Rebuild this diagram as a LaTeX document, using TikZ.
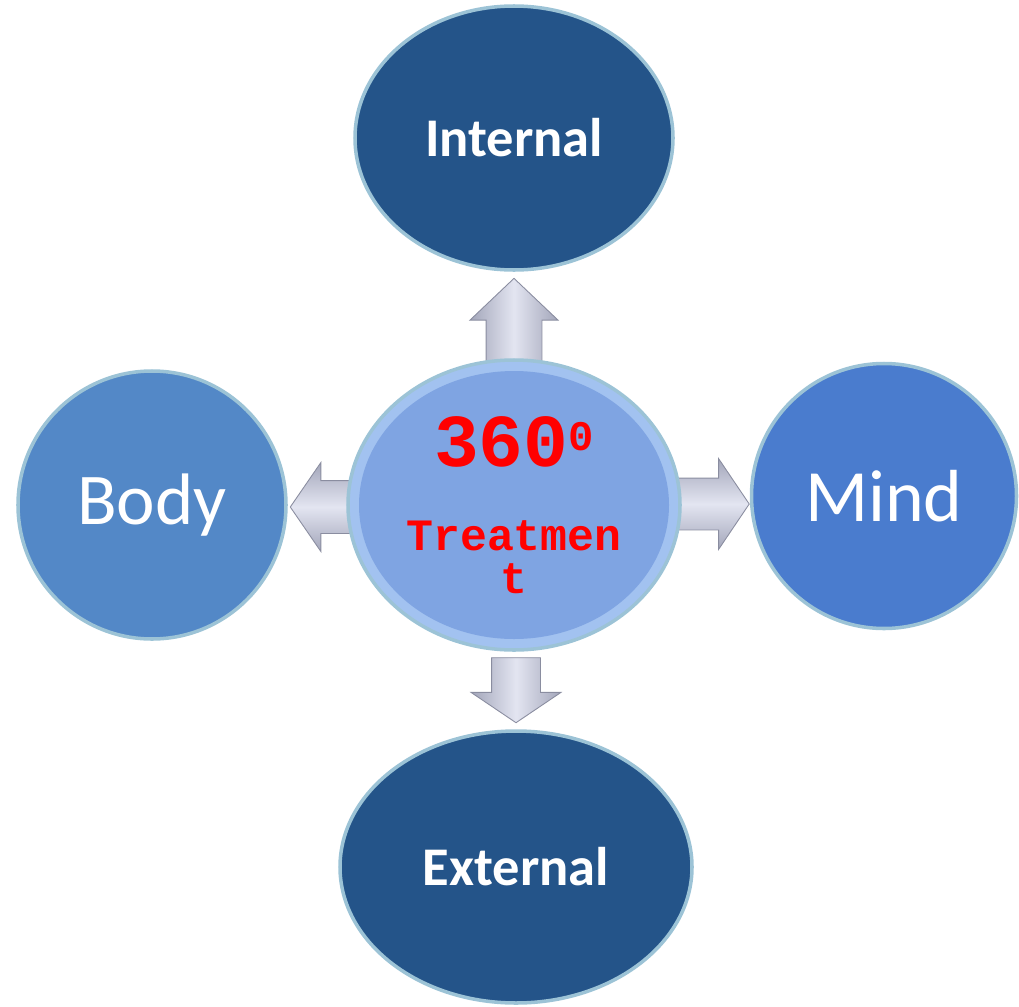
\documentclass[tikz,border=0pt]{standalone}
\usepackage{fontspec}
\setmainfont{Carlito}
\newfontfamily\courb{Liberation Mono}
\usetikzlibrary{shapes.geometric,shapes.arrows,calc}
\definecolor{intcol}{HTML}{245489}
\definecolor{bodycol}{HTML}{5388C7}
\definecolor{mindcol}{HTML}{4A7CCE}
\definecolor{ctrcol}{HTML}{7FA4E2}
\definecolor{ringcol}{HTML}{A2C2F0}
\definecolor{rimcol}{HTML}{9CC3D6}
\definecolor{arrlight}{HTML}{E3E5F1}
\definecolor{arrdark}{HTML}{A3A6BA}
\definecolor{arrline}{HTML}{8A8DA0}
\begin{document}
\begin{tikzpicture}[semithick,
bubble/.style={ellipse,draw=rimcol,line width=2pt,text=white,inner sep=0pt},
blockv/.style={single arrow,draw=arrline,line width=0.5pt,inner ysep=0pt,anchor=tip,
  left color=arrdark,right color=arrdark,middle color=arrlight},
blockh/.style={single arrow,draw=arrline,line width=0.5pt,inner xsep=0pt,anchor=tip,
  top color=arrdark,bottom color=arrdark,middle color=arrlight}]
\useasboundingbox (0,0) rectangle (20.38,-20.12);
\node[bubble,fill=intcol,minimum width=6.36cm,minimum height=5.28cm,
  font=\fontsize{31}{31}\selectfont\bfseries] (int) at (10.28,-2.76) {Internal};
\node[bubble,fill=intcol,minimum width=7.04cm,minimum height=5.44cm,
  font=\fontsize{31}{31}\selectfont\bfseries] (ext) at (10.32,-17.34) {External};
\node[bubble,circle,fill=bodycol,minimum size=5.36cm,
  font=\fontsize{41.5}{41.5}\selectfont] (body) at (3.04,-10.1) {Body};
\node[bubble,circle,fill=mindcol,minimum size=5.3cm,
  font=\fontsize{42}{42}\selectfont] (mind) at (17.68,-9.92) {Mind};
\node[blockv,shape border rotate=90,minimum height=1.66cm,inner xsep=0.55cm,
  single arrow head extend=0.32cm,single arrow tip angle=93] (aup)
  at ($(int.south)+(0,-0.12)$) {};
\node[blockv,shape border rotate=270,minimum height=1.3cm,inner xsep=0.48cm,
  single arrow head extend=0.41cm,single arrow tip angle=112] (adown)
  at ($(ext.north)+(0,0.12)$) {};
\node[blockh,shape border rotate=180,minimum height=1.3cm,inner ysep=0.52cm,
  single arrow head extend=0.36cm,single arrow tip angle=111] (aleft)
  at ($(body.east)+(0.04,-0.04)$) {};
\node[blockh,minimum height=1.5cm,inner ysep=0.51cm,
  single arrow head extend=0.39cm,single arrow tip angle=112] (aright)
  at ($(mind.west)+(0,-0.16)$) {};
\node[bubble,fill=ringcol,minimum width=6.64cm,minimum height=5.8cm,
  text=red,align=center,font=\courb\bfseries\fontsize{25.5}{24.4}\selectfont,
  path picture={\fill[ctrcol] (path picture bounding box.center)
    ellipse[x radius=3.1cm,y radius=2.68cm];}] (ctr) at (10.28,-10.1)
  {{\fontsize{42.5}{48}\selectfont 360\raisebox{9pt}{\fontsize{24}{24}\selectfont 0}}\\[23.6pt]
   Treatmen\\t};
\end{tikzpicture}
\end{document}
